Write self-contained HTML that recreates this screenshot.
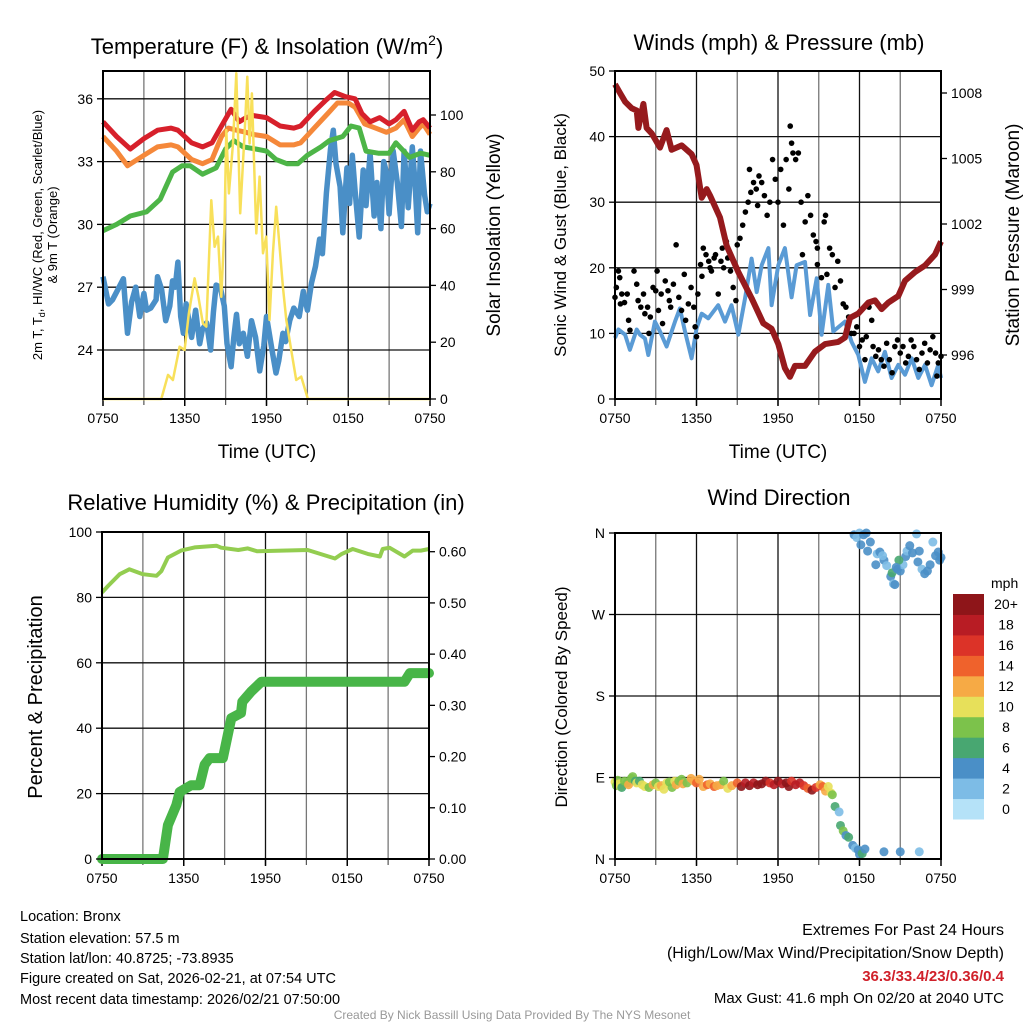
<!DOCTYPE html>
<html><head><meta charset="utf-8"><style>
html,body{margin:0;padding:0;background:#fff;}
svg{display:block;font-family:"Liberation Sans",Arial,sans-serif;}
</style></head><body>
<svg id="fig" width="1024" height="1024" viewBox="0 0 1024 1024" xmlns="http://www.w3.org/2000/svg">
<rect width="1024" height="1024" fill="#fff"/>
<g id="layer"></g>
<!-- titles -->
<text x="267" y="54" font-size="22" text-anchor="middle">Temperature (F) &amp; Insolation (W/m<tspan dy="-9" font-size="14">2</tspan><tspan dy="9">)</tspan></text>
<text x="779" y="50" font-size="22" text-anchor="middle">Winds (mph) &amp; Pressure (mb)</text>
<text x="266" y="510" font-size="22" text-anchor="middle">Relative Humidity (%) &amp; Precipitation (in)</text>
<text x="779" y="505" font-size="22" text-anchor="middle">Wind Direction</text>
<!-- axis titles -->
<text x="267" y="458" font-size="19" text-anchor="middle">Time (UTC)</text>
<text x="778" y="458" font-size="19" text-anchor="middle">Time (UTC)</text>
<g font-size="13" text-anchor="middle">
<text transform="translate(42,235) rotate(-90)">2m T, T<tspan font-size="9" dy="3">d</tspan><tspan dy="-3">, HI/WC (Red, Green, Scarlet/Blue)</tspan></text>
<text transform="translate(57,235) rotate(-90)">&amp; 9m T (Orange)</text>
</g>
<text transform="translate(500,235) rotate(-90)" font-size="19" text-anchor="middle">Solar Insolation (Yellow)</text>
<text transform="translate(566,235) rotate(-90)" font-size="17" text-anchor="middle">Sonic Wind &amp; Gust (Blue, Black)</text>
<text transform="translate(1019,235) rotate(-90)" font-size="19" text-anchor="middle">Station Pressure (Maroon)</text>
<text transform="translate(42,697) rotate(-90)" font-size="20" text-anchor="middle">Percent &amp; Precipitation</text>
<text transform="translate(567,697) rotate(-90)" font-size="17" text-anchor="middle">Direction (Colored By Speed)</text>
<!-- footer -->
<g font-size="14.5">
<text x="20" y="921">Location: Bronx</text>
<text x="20" y="943">Station elevation: 57.5 m</text>
<text x="20" y="963">Station lat/lon: 40.8725; -73.8935</text>
<text x="20" y="983">Figure created on Sat, 2026-02-21, at 07:54 UTC</text>
<text x="20" y="1004">Most recent data timestamp: 2026/02/21 07:50:00</text>
</g>
<g font-size="16" text-anchor="end">
<text x="1004" y="935">Extremes For Past 24 Hours</text>
<text x="1004" y="958">(High/Low/Max Wind/Precipitation/Snow Depth)</text>
<text x="1004" y="981" fill="#d0202a" font-weight="bold" font-size="15">36.3/33.4/23/0.36/0.4</text>
<text x="1004" y="1003" font-size="15">Max Gust: 41.6 mph On 02/20 at 2040 UTC</text>
</g>
<text x="512" y="1019" font-size="12" fill="#999" text-anchor="middle">Created By Nick Bassill Using Data Provided By The NYS Mesonet</text>
<text x="991" y="588" font-size="14" text-anchor="start">mph</text>
</svg>
<script>
// ---------- data ----------
const timeTickLabels = ['0750','1350','1950','0150','0750'];
const timeTickHours = [0,6,12,18,24];
const tempTicks = [24,27,30,33,36];
const insolTicks = [0,20,40,60,80,100];
const windTicks = [0,10,20,30,40,50];
const presTicks = [996,999,1002,1005,1008];
const rhTicks = [0,20,40,60,80,100];
const precipTicks = [0,0.1,0.2,0.3,0.4,0.5,0.6];
const precipTickLabels = ['0.00','0.10','0.20','0.30','0.40','0.50','0.60'];
const dirTicks = [0,90,180,270,360];
const dirTickLabels = ['N','E','S','W','N'];

const redHours = [0,1,2,3,4,5,5.5,6.5,7.3,8,8.7,9.4,10,10.5,11,12,13,14,14.5,15.5,16.3,17,17.8,18.5,19,19.6,20.3,21,21.5,22.1,22.7,23.2,23.5,24];
const redVals = [34.9,34.2,33.6,34.1,34.5,34.6,34.5,33.9,33.7,33.9,34.7,35.5,34.9,35.1,35.2,35.1,34.7,34.6,34.7,35.4,35.9,36.3,36.1,36.0,35.3,34.9,35.1,34.8,35.0,35.4,34.5,34.9,35.0,34.6];
const orangeHours = [0,1,1.8,3,4,5,5.5,6.5,7.3,8,8.7,9.2,9.8,10.5,11,12,13,14,14.5,15.5,16.5,17.2,18,18.5,19.2,20,20.8,21.5,22.1,22.7,23.2,23.5,24];
const orangeVals = [34.2,33.5,32.8,33.3,33.7,33.8,33.7,33.1,32.9,33.1,34.2,34.6,34.5,34.4,34.3,34.2,33.8,33.8,33.9,34.6,35.3,35.8,35.8,35.6,34.8,34.6,34.4,34.6,35.0,34.2,34.6,34.8,34.3];
const greenHours = [0,1,2,3.2,4.2,5.1,5.8,6.4,7.3,8.3,9.0,9.6,10.3,11.2,12,12.7,13.5,14.3,15,16,16.6,17.6,18.2,18.8,19.3,20.2,21,21.5,22.5,23.3,24];
const greenVals = [29.7,30.0,30.4,30.6,31.2,32.5,32.8,32.8,32.4,32.7,33.6,34.0,33.7,33.6,33.5,33.1,32.9,32.9,33.3,33.7,34.0,34.2,34.7,34.6,33.5,33.4,33.4,33.9,33.2,33.4,33.3];
const dewHours = [0,0.4,0.7,1.1,1.5,1.7,1.8,2.1,2.4,2.7,3.0,3.2,3.5,3.9,4.0,4.3,4.6,4.9,5.1,5.3,5.5,5.7,5.9,6.1,6.5,6.8,7.1,7.3,7.6,7.9,8.1,8.3,8.6,8.9,9.1,9.4,9.6,9.8,10.0,10.3,10.6,10.9,11.2,11.5,11.8,12.0,12.4,12.7,12.9,13.2,13.4,13.7,14.0,14.4,14.7,15.0,15.3,15.6,15.9,16.1,16.4,16.7,16.9,17.1,17.4,17.6,17.9,18.1,18.3,18.5,18.8,19.1,19.3,19.6,19.9,20.1,20.4,20.6,20.8,21.0,21.3,21.6,21.9,22.1,22.4,22.7,22.9,23.1,23.3,23.6,23.8,24];
const dewVals = [27.5,26.2,26.4,26.9,27.4,25.6,24.8,26.3,27.0,25.6,26.7,25.9,26.0,26.4,27.5,26.9,25.4,26.1,27.3,27.0,28.2,25.6,24.8,26.2,24.6,25.9,24.3,25.0,25.3,24.0,25.8,27.1,27.0,26.1,24.3,23.2,24.6,25.7,24.3,24.8,23.7,25.4,24.6,23.0,24.2,25.6,24.0,22.9,23.5,24.8,24.4,25.4,26.0,25.6,26.8,25.9,27.2,28.0,29.3,28.6,31.5,33.6,34.5,32.9,31.8,29.6,32.7,31.0,33.3,31.6,29.4,32.6,30.9,33.4,30.4,32.0,29.8,33.0,32.5,30.5,33.5,32.0,29.9,33.5,30.8,33.7,32.0,29.6,33.5,31.4,30.6,31.0];
const insolHours = [0,4.28,4.77,5.13,5.62,5.99,6.3,6.72,7.0,7.33,7.58,7.95,8.19,8.44,8.68,8.92,9.05,9.24,9.54,9.78,10.07,10.39,10.59,10.76,10.93,11.25,11.49,11.74,11.98,12.22,12.47,12.71,12.96,13.2,13.45,13.81,14.18,14.55,15.04,24];
const insolVals = [0,0,8.5,6.7,18.4,17.3,30,42.5,36,26.6,25.5,70,53.6,57.2,36,60.7,94.7,72.4,90,114.7,65.4,93.5,113.5,90,107.6,58.3,78.3,51.3,57.2,27.8,51.3,67.7,53.6,39.5,27.8,17.3,6.7,7.9,0,0];

const presHours = [0,0.37,0.74,1.23,1.6,1.72,2.09,2.33,2.7,3.31,3.8,4.17,4.91,5.64,6.0,6.38,6.75,7.0,7.73,8.22,9.08,10.06,10.92,11.53,12.02,12.51,12.88,13.25,13.99,14.72,15.46,16.44,16.93,17.3,17.91,18.65,19.14,19.63,20.12,20.86,21.35,22.09,22.82,23.56,24];
const presVals = [1008.4,1008.0,1007.6,1007.3,1007.2,1006.4,1007.5,1006.4,1006.15,1005.5,1006.3,1005.4,1005.6,1005.2,1004.7,1003.2,1003.6,1003.3,1002.3,1001.0,999.8,998.6,997.45,997.2,996.5,995.4,995.0,995.5,995.5,996.15,996.5,996.6,996.8,997.7,997.9,998.4,998.5,998.1,998.4,998.7,999.4,999.8,1000.1,1000.6,1001.2];
const sonicHours = [0,0.25,0.74,1.1,1.6,1.84,2.21,2.45,2.94,3.31,3.8,4.42,4.78,5.15,5.64,6.01,6.38,6.87,7.6,8.1,8.58,9.08,9.57,10.06,10.43,10.8,11.29,11.53,12.02,12.51,13.0,13.37,13.99,14.36,14.85,15.21,15.7,16.07,16.93,17.42,17.91,18.4,18.89,19.38,19.87,20.36,20.86,21.35,21.84,22.33,22.82,23.31,23.8,24];
const sonicVals = [9.3,10.6,9.8,7.5,10.6,9.8,9.2,6.7,11.8,10.3,8.0,11.8,13.8,10.3,6.2,10.8,13.0,12.3,14.3,11.8,14.3,9.8,15.3,21.4,16.3,20.4,23.0,14.3,20.4,23.0,15.5,20.4,20.9,12.8,18.4,9.8,17.4,10.3,11.8,8.7,6.7,2.6,6.2,4.2,7.2,3.2,5.2,3.7,6.2,3.2,5.2,2.1,5.2,3.2];
const gustHours = [0,0.1,0.25,0.35,0.4,0.5,0.7,0.9,1.0,1.1,1.4,1.6,1.7,1.9,2.1,2.2,2.4,2.5,2.6,2.8,3.0,3.1,3.2,3.4,3.5,3.7,3.9,4.0,4.1,4.3,4.5,4.7,4.9,5.1,5.2,5.4,5.6,5.8,5.9,6.0,6.1,6.3,6.4,6.5,6.7,6.9,7.0,7.1,7.3,7.4,7.6,7.8,7.9,8.0,8.2,8.3,8.5,8.7,8.9,9.0,9.2,9.4,9.6,9.8,9.9,10.0,10.2,10.4,10.5,10.6,10.8,11.0,11.2,11.4,11.6,11.8,12.0,12.2,12.4,12.6,12.8,12.9,13.0,13.1,13.3,13.5,13.7,13.8,14.0,14.2,14.4,14.6,14.8,14.9,14.9,15.2,15.4,15.5,15.6,15.8,16.0,16.2,16.4,16.6,16.8,17.0,17.2,17.4,17.6,17.8,18.0,18.2,18.4,18.5,18.7,18.9,19.0,19.2,19.4,19.6,19.8,20.0,20.2,20.4,20.6,20.8,21.0,21.2,21.4,21.6,21.8,22.0,22.2,22.4,22.6,22.8,23.0,23.2,23.4,23.6,23.7,23.8,24.0];
const gustVals = [15.5,17,19.5,18.5,14.5,16,14.7,16,12,10.5,19.5,17.5,15,14,16,13,14,10,12.5,17,16.5,19.5,13.5,16,11.5,18,16.5,15,14,17.5,23.5,15.5,13.5,19,12,14.5,17,14,11,9.5,16,20.5,18.7,23,22,21,20,19.5,21.5,22,16,21,23,20,24,21.5,19.5,17,15,23.5,24.5,26.5,28.5,30,35,31.5,33,32,29.5,34,33,31,28,30,36.5,33.5,30,35,26.5,36.5,32,41.6,39,37.5,36.5,37.5,30,22,27,31,28,25,24,23,20.5,18.5,27,28,19,23,22,17,21,18,14.5,14,12.5,10,10,11,8,9,6,9.5,14,12,8,6.5,7.5,6,5,8.5,6,4,8,9,7,8,5.5,6.5,9,8,6,4.5,7,8.5,5.5,7.5,9.5,7,3.5,5.5,6.5];

const rhHours = [0,0.44,1.3,2.0,3.0,4.0,4.35,4.84,5.8,6.8,8.4,8.75,10,10.7,11.4,13.2,15.1,17.1,17.6,18.4,19.5,20.4,20.6,21.1,22.2,22.8,23.4,24];
const rhVals = [81.5,83.5,87.1,88.6,87.1,86.6,88,92.2,94.3,95.3,95.8,95.2,94.5,95.0,94.1,94.3,94.5,91.9,93.3,94.8,93.3,92.5,94.8,95.2,92.5,94.3,94.3,94.8];
const precipHours = [0,4.47,4.84,5.45,5.7,6.55,7.16,7.53,7.9,8.87,9.49,10.2,10.3,10.95,11.7,22.2,22.6,24];
const precipVals = [0,0,0.066,0.105,0.131,0.144,0.144,0.184,0.197,0.197,0.275,0.285,0.307,0.327,0.346,0.346,0.363,0.363];

const dirHours = [0,0.1,0.2,0.3,0.4,0.5,0.7,0.9,1.0,1.2,1.3,1.5,1.6,1.8,2.0,2.2,2.5,2.8,3.0,3.2,3.4,3.6,3.8,4.0,4.2,4.4,4.5,4.7,4.9,5.0,5.3,5.6,5.8,6.0,6.2,6.5,6.8,7.0,7.3,7.5,7.8,8.0,8.3,8.6,9.0,9.3,9.6,9.9,10.2,10.5,10.8,11.1,11.4,11.7,12.0,12.3,12.6,12.8,13.0,13.3,13.6,13.9,14.2,14.5,14.8,15.1,15.3,15.5,15.7,15.9,16.0,16.2,16.5,16.6,16.8,17.0,17.2,17.5,17.7,17.9,18.0,18.2,18.4,19.8,21.0,22.4,
 17.6,17.8,18.0,18.1,18.3,18.5,18.8,18.6,19.3,19.5,19.8,19.7,20.0,20.3,20.4,20.5,20.6,20.8,21.0,21.2,21.4,21.5,21.7,21.9,22.2,22.3,22.4,22.6,22.8,23.0,23.2,23.4,23.6,23.8,23.9,24.0,19.2,20.9,20.7];
const dirVals = [85,81,87,83,80,79,86,84,82,89,91,86,84,86,82,80,79,82,84,80,81,77,84,85,79,86,82,86,88,83,84,89,86,84,88,80,82,83,80,81,82,86,78,81,84,80,84,81,84,82,83,86,84,82,86,83,84,80,86,82,84,81,78,76,79,82,80,75,80,73,71,58,52,37,31,26,24,15,12,10,5,6,11,8,8,8,
 358,355,360,347,358,360,350,340,337,339,330,335,324,312,316,304,303,320,318,325,334,340,346,338,359,328,340,320,315,318,325,350,335,339,330,333,325,330,322];
const dirSpeeds = [10,9,8,10,10,7,8,9,12,8,8,7,10,6,10,10,8,12,8,10,12,10,10,8,8,10,12,8,8,12,8,13,12,14,12,12,14,13,14,12,13,8,10,12,14,20,19,20,18,20,20,20,17,18,20,18,20,20,17,18,19,17,14,20,17,12,14,13,11,10,8,7,3,6,8,5,6,4,2,4,5,6,4,4,4,2,
 4,2,2,4,4,4,4,4,2,4,4,2,2,4,6,2,4,4,4,2,4,2,4,4,2,4,4,2,4,4,4,2,4,4,4,4,4,6,4];
const speedBins = [0,2,4,6,8,10,12,14,16,18,20];
const speedBinLabels = ['0','2','4','6','8','10','12','14','16','18','20+'];
const speedColors = ['#b5e2f8','#7dbce6','#4a8fc7','#48a771','#7cc24b','#e7e05a','#f6aa45','#ef622c','#dc3328','#b81c24','#8e1519'];

// ---------- helpers ----------
const NS='http://www.w3.org/2000/svg';
const layer=document.getElementById('layer');
function mk(tag,attrs,parent){const e=document.createElementNS(NS,tag);for(const k in attrs)e.setAttribute(k,attrs[k]);(parent||layer).appendChild(e);return e;}
function linScale(d0,d1,r0,r1){return v=>r0+(v-d0)*(r1-r0)/(d1-d0);}
function pathFrom(xs,ys,sx,sy){return xs.map((h,i)=>(i?'L':'M')+sx(h).toFixed(1)+','+sy(ys[i]).toFixed(1)).join('');}

function frame(p,name){
  const g=mk('g',{});
  
  
  for(let k=1;k<8;k++){const x=p.x0+(p.x1-p.x0)*k/8;
    const l=mk('line',{x1:x,x2:x,y1:p.y0,y2:p.y1,stroke:k%2?'#777':'#111','stroke-width':1.3},g);
    
    
    mk('line',{x1:x,x2:x,y1:p.y1,y2:p.y1+6,stroke:'#555','stroke-width':1.2},g);
  }
  p.hgrid.forEach(y=>{const l=mk('line',{x1:p.x0,x2:p.x1,y1:y,y2:y,stroke:'#111','stroke-width':1.3},g);
    
    });
  const sx=linScale(0,24,p.x0,p.x1);
  timeTickHours.forEach((h,i)=>{const t=mk('text',{x:sx(h),y:p.y1+24,'font-size':14,'text-anchor':'middle'});t.textContent=timeTickLabels[i];
    
    
    mk('line',{x1:sx(h),x2:sx(h),y1:p.y1,y2:p.y1+7,stroke:'#000','stroke-width':1.5});});
}
function border(p,name){const r=mk('rect',{x:p.x0,y:p.y0,width:p.x1-p.x0,height:p.y1-p.y0,fill:'none',stroke:'#000','stroke-width':2});
  
  }
function yTicks(vals,labels,sy,x,side){vals.forEach((v,i)=>{const y=sy(v);
  mk('line',{x1:x,x2:x+(side==='left'?-6:6),y1:y,y2:y,stroke:'#000','stroke-width':1.3});
  const t=mk('text',{x:side==='left'?x-10:x+10,y:y+5,'font-size':14,'text-anchor':side==='left'?'end':'start'});t.textContent=labels[i];
  
  });}

// ---------- panel 1: temperature ----------
const P1={x0:103,x1:430,y0:71,y1:399};
const t1=linScale(0,24,P1.x0,P1.x1), yT=linScale(24,36,350,98.8), yS=linScale(0,100,399,115);
P1.hgrid=tempTicks.map(yT);
frame(P1,'temp');
let e;
e=mk('path',{d:pathFrom(dewHours,dewVals,t1,yT),fill:'none',stroke:'#4a8fc7','stroke-width':5.5,'stroke-linejoin':'round'});


e=mk('path',{d:pathFrom(greenHours,greenVals,t1,yT),fill:'none',stroke:'#4db547','stroke-width':5,'stroke-linejoin':'round'});


e=mk('path',{d:pathFrom(orangeHours,orangeVals,t1,yT),fill:'none',stroke:'#f5883a','stroke-width':5,'stroke-linejoin':'round'});


e=mk('path',{d:pathFrom(redHours,redVals,t1,yT),fill:'none',stroke:'#d7202b','stroke-width':5,'stroke-linejoin':'round'});


e=mk('path',{d:pathFrom(insolHours,insolVals,t1,yS),fill:'none',stroke:'#f8e05a','stroke-width':2.5,'stroke-linejoin':'round'});


border(P1,'temp');
yTicks(tempTicks,tempTicks.map(String),yT,P1.x0,'left');
yTicks(insolTicks,insolTicks.map(String),yS,P1.x1,'right');

// ---------- panel 2: wind ----------
const P2={x0:615,x1:941,y0:71,y1:399};
const t2=linScale(0,24,P2.x0,P2.x1), yW=linScale(0,50,399,71), yP=linScale(996,1008,355,93);
P2.hgrid=windTicks.map(yW);
frame(P2,'wind');
e=mk('path',{d:pathFrom(sonicHours,sonicVals,t2,yW),fill:'none',stroke:'#5a9bd5','stroke-width':4,'stroke-linejoin':'round'});


const gustG=mk('g',{});


gustHours.forEach((h,i)=>{const c=mk('circle',{cx:t2(h),cy:yW(gustVals[i]),r:2.8,fill:'#000'},gustG);
  
  });
e=mk('path',{d:pathFrom(presHours,presVals,t2,yP),fill:'none',stroke:'#961a1d','stroke-width':6,'stroke-linejoin':'round'});


border(P2,'wind');
yTicks(windTicks,windTicks.map(String),yW,P2.x0,'left');
yTicks(presTicks,presTicks.map(String),yP,P2.x1,'right');

// ---------- panel 3: RH & precip ----------
const P3={x0:102,x1:429,y0:532,y1:859};
const t3=linScale(0,24,P3.x0,P3.x1), yR=linScale(0,100,859,532), yPr=linScale(0,0.6,859,551.7);
P3.hgrid=rhTicks.map(yR);
frame(P3,'rh');
e=mk('path',{d:pathFrom(rhHours,rhVals,t3,yR),fill:'none',stroke:'#93cd50','stroke-width':4,'stroke-linejoin':'round'});


e=mk('path',{d:pathFrom(precipHours,precipVals,t3,yPr),fill:'none',stroke:'#48b548','stroke-width':10,'stroke-linejoin':'round','stroke-linecap':'round'});


border(P3,'rh');
yTicks(rhTicks,rhTicks.map(String),yR,P3.x0,'left');
yTicks(precipTicks,precipTickLabels,yPr,P3.x1,'right');

// ---------- panel 4: wind direction ----------
const P4={x0:615,x1:941,y0:533,y1:859};
const t4=linScale(0,24,P4.x0,P4.x1), yD=linScale(0,360,859,533);
P4.hgrid=dirTicks.map(yD);
frame(P4,'dir');
function speedColor(s){let k=0;for(let i=0;i<speedBins.length;i++)if(s>=speedBins[i])k=i;return speedColors[k];}
const dirG=mk('g',{});


dirHours.forEach((h,i)=>{const c=mk('circle',{cx:t4(h),cy:yD(dirVals[i]),r:4.5,fill:speedColor(dirSpeeds[i]),'fill-opacity':0.9},dirG);
  
  });
border(P4,'dir');
yTicks(dirTicks,dirTickLabels,yD,P4.x0,'left');

// colorbar
const cb=mk('g',{});


const cbTop=594, cbH=225/11;
speedColors.forEach((c,i)=>{const k=speedColors.length-1-i;
  const r=mk('rect',{x:953,y:cbTop+k*cbH,width:31,height:cbH+0.5,fill:c},cb);
  
  
  const t=mk('text',{x:1006,y:cbTop+k*cbH+cbH/2+5,'font-size':14,'text-anchor':'middle'},cb);t.textContent=speedBinLabels[i];
  
  });
</script>
</body></html>
